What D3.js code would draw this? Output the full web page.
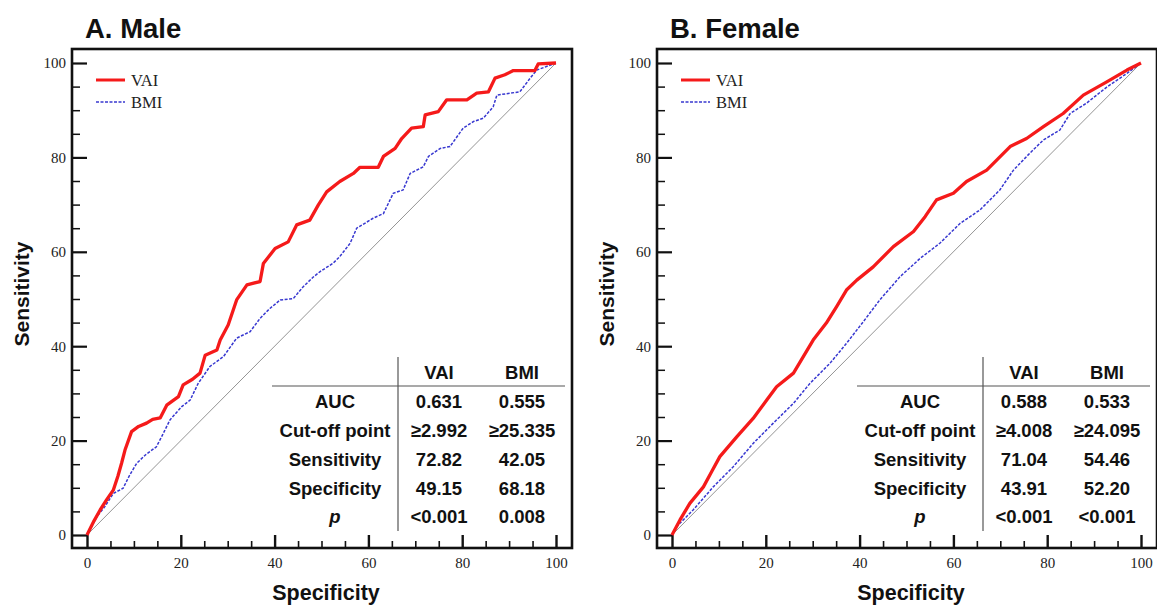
<!DOCTYPE html>
<html>
<head>
<meta charset="utf-8">
<script src="https://cdn.jsdelivr.net/npm/d3@7"></script>
<style>
  body { margin: 0; background: #fff; }
  .tick text { font-family: "Liberation Serif", "Times New Roman", serif; font-size: 15px; fill: #222; }
  .domain { display: none; }
  .tick line { stroke: #111; }
</style>
</head>
<body>
<div id="chart"></div>
<script>
// ROC curves: [100 - specificity, sensitivity]
let maleVAI = [[0,0],[1.5,3],[2.8,5.3],[4.2,7.5],[5.6,9.5],[6.6,12.5],[7.4,15.3],[8.1,18],[9.5,21.9],[11,23],[12.7,23.7],[14,24.5],[15.6,24.8],[17,27.5],[19.5,29.3],[20.5,31.8],[22.5,33],[24.1,34.3],[25.2,38.1],[27.7,39.2],[28.4,41.3],[30.1,44.5],[31.9,49.8],[34.1,53],[36.9,53.7],[37.6,57.5],[40.1,60.7],[42.9,62.1],[44.7,65.7],[47.5,66.7],[49.3,69.9],[51.1,72.7],[53.9,74.9],[56.8,76.6],[58.2,77.9],[62.1,77.9],[63.2,80.2],[65.7,81.9],[67.1,84],[69.2,86.2],[71.7,86.5],[72.1,89],[74.9,89.7],[76.7,92.2],[81,92.2],[83.1,93.6],[85.6,93.9],[87,96.8],[89.1,97.5],[90.9,98.4],[95.5,98.4],[96.2,99.8],[100,100]];
let maleBMI = [[0,0],[2.1,3.9],[3.8,6],[5.6,8.8],[7.7,9.9],[9,12.5],[10.6,15.2],[12.5,17],[14.8,18.7],[16,21],[17.7,24.4],[20.2,27.2],[22,28.6],[23.7,32.1],[26.2,35.7],[29.1,37.8],[31.9,41.7],[34.8,43.1],[36.9,45.9],[39,48],[41.2,49.8],[44,50.1],[46,52.5],[48.3,54.7],[49.7,55.8],[52.5,57.6],[53.9,59],[56.1,61.8],[57.5,65],[61,67.1],[63.2,68.1],[65.3,72.4],[67.4,73.1],[68.9,76.6],[71.7,78],[72.8,80.2],[75.3,81.9],[77.4,82.3],[80.2,86.2],[82.4,87.6],[84.5,88.3],[86.6,90.7],[87.4,93.2],[92.3,93.9],[94.5,96.8],[95.9,98.5],[100,100]];
let femaleVAI = [[0,0],[1.7,3.2],[3.8,6.7],[6.7,10.2],[8.5,13.5],[10.2,16.6],[13.8,20.8],[17.3,24.7],[20.2,28.6],[22.3,31.4],[25.9,34.3],[28,37.8],[30.1,41.3],[32.9,44.9],[35.1,48.4],[37.2,51.9],[39.4,54],[42.9,56.8],[47.2,61.1],[51.5,64.3],[54,67.5],[56.4,71],[60,72.4],[62.8,74.9],[67.1,77.3],[72.1,82.3],[75.6,84],[79.2,86.5],[83.4,89.3],[87.7,93.2],[92.7,96],[97,98.5],[100,100]];
let femaleBMI = [[0,0],[1,1.8],[4.5,5.3],[8.8,10.2],[13.1,14.5],[17.3,19.4],[21.6,23.7],[25.9,27.9],[29.4,32.1],[33.7,36.4],[37.2,40.6],[40.8,45.2],[44.3,49.8],[48.6,54.7],[52.9,58.6],[57.1,61.8],[61.4,66],[65.7,68.9],[69.9,73.1],[72.8,77.3],[76.3,80.9],[79.2,83.7],[82.7,85.8],[84.9,89.3],[88.4,91.5],[92.7,94.9],[97,97.8],[100,100]];

let axisTicks = [0, 20, 40, 60, 80, 100];
let minorTicks = d3.range(5, 100, 5).filter(function(d){ return d % 20 != 0; });

let tableCols = ["VAI", "BMI"];
let tableRows = ["AUC", "Cut-off point", "Sensitivity", "Specificity", "p"];
let maleTable = [["0.631", "0.555"], ["\u22652.992", "\u226525.335"], ["72.82", "42.05"], ["49.15", "68.18"], ["<0.001", "0.008"]];
let femaleTable = [["0.588", "0.533"], ["\u22654.008", "\u226524.095"], ["71.04", "54.46"], ["43.91", "52.20"], ["<0.001", "<0.001"]];

let panels = [
  {title: "A. Male", vai: maleVAI, bmi: maleBMI, table: maleTable, dx: 0},
  {title: "B. Female", vai: femaleVAI, bmi: femaleBMI, table: femaleTable, dx: 585}
];

let width = 1157, height = 606;
let svg = d3.select("#chart").append("svg")
  .attr("width", width)
  .attr("height", height)
  .style("background", "#fff");

let frame = {left: 72, right: 572, top: 49, bottom: 548};
let bold = "'Liberation Sans', Arial, sans-serif";
let serif = "'Liberation Serif', 'Times New Roman', serif";

panels.forEach(function(p){
  let g = svg.append("g").attr("transform", "translate(" + p.dx + ",0)");

  let x = d3.scaleLinear().domain([0, 100]).range([87, 556]);
  let y = d3.scaleLinear().domain([0, 100]).range([535, 63]);

  // title
  g.append("text")
    .attr("x", 85).attr("y", 38)
    .style("font-family", bold).style("font-weight", "bold").style("font-size", "27.5px")
    .style("fill", "#111")
    .text(p.title);

  // axes, ticks inside the frame
  g.append("g").attr("transform", "translate(" + frame.left + ",0)")
    .call(d3.axisLeft(y).tickValues(axisTicks).tickSize(-15).tickPadding(6))
    .selectAll(".tick line").style("stroke-width", 2.2);
  g.append("g").attr("transform", "translate(" + frame.left + ",0)")
    .call(d3.axisLeft(y).tickValues(minorTicks).tickSize(-8).tickFormat(""))
    .selectAll(".tick line").style("stroke-width", 1.5);
  g.append("g").attr("transform", "translate(0," + frame.bottom + ")")
    .call(d3.axisBottom(x).tickValues(axisTicks).tickSize(-13).tickPadding(9))
    .selectAll(".tick line").style("stroke-width", 2.4);
  g.append("g").attr("transform", "translate(0," + frame.bottom + ")")
    .call(d3.axisBottom(x).tickValues(minorTicks).tickSize(-7).tickFormat(""))
    .selectAll(".tick line").style("stroke-width", 1.6);

  g.selectAll(".tick text").style("font-family", serif).style("font-size", "15px");

  // frame
  g.append("rect")
    .attr("x", frame.left).attr("y", frame.top)
    .attr("width", frame.right - frame.left).attr("height", frame.bottom - frame.top)
    .style("fill", "none").style("stroke", "#111").style("stroke-width", 2.6);

  // axis titles
  g.append("text")
    .attr("transform", "translate(29," + 294 + ") rotate(-90)")
    .attr("text-anchor", "middle")
    .style("font-family", bold).style("font-weight", "bold").style("font-size", "21px")
    .style("fill", "#111")
    .text("Sensitivity");
  g.append("text")
    .attr("x", 326).attr("y", 600)
    .attr("text-anchor", "middle")
    .style("font-family", bold).style("font-weight", "bold").style("font-size", "21.5px")
    .style("fill", "#111")
    .text("Specificity");

  // reference diagonal
  let line = d3.line().x(function(d){ return x(d[0]); }).y(function(d){ return y(d[1]); });
  g.append("path")
    .datum([[0, 0], [100, 100]])
    .attr("d", line)
    .style("fill", "none").style("stroke", "#888").style("stroke-width", 0.9);

  g.append("path")
    .datum(p.bmi)
    .attr("d", line)
    .style("fill", "none").style("stroke", "#3838d0").style("stroke-width", 1.5)
    .style("stroke-dasharray", "3,1.5");

  g.append("path")
    .datum(p.vai)
    .attr("d", line)
    .style("fill", "none").style("stroke", "#f51a1a").style("stroke-width", 3.3)
    .style("stroke-linejoin", "round");

  // legend
  let legend = [{name: "VAI", color: "#f51a1a", w: 3, dash: null}, {name: "BMI", color: "#3838d0", w: 1.4, dash: "3,1.5"}];
  legend.forEach(function(l, i){
    let ly = 80 + i * 22;
    g.append("line")
      .attr("x1", 96).attr("x2", 125).attr("y1", ly).attr("y2", ly)
      .style("stroke", l.color).style("stroke-width", l.w)
      .style("stroke-dasharray", l.dash);
    g.append("text")
      .attr("x", 131).attr("y", ly + 5.5)
      .style("font-family", serif).style("font-size", "16.5px").style("fill", "#222")
      .text(l.name);
  });

  // stats table
  let colX = [439, 522];
  let rowY = [408, 437, 466, 494.5, 523];
  let tg = g.append("g")
    .style("font-family", bold).style("font-weight", "bold").style("font-size", "18.5px")
    .style("fill", "#111");
  tg.append("line").attr("x1", 398).attr("x2", 398).attr("y1", 357).attr("y2", 531)
    .style("stroke", "#555").style("stroke-width", 1.2);
  tg.append("line").attr("x1", 272).attr("x2", 565).attr("y1", 386).attr("y2", 386)
    .style("stroke", "#555").style("stroke-width", 1.2);
  tableCols.forEach(function(c, j){
    tg.append("text").attr("x", colX[j]).attr("y", 379)
      .attr("text-anchor", "middle").text(c);
  });
  tableRows.forEach(function(r, i){
    tg.append("text").attr("x", 335).attr("y", rowY[i])
      .attr("text-anchor", "middle")
      .style("font-style", r == "p" ? "italic" : null)
      .text(r);
    p.table[i].forEach(function(v, j){
      tg.append("text").attr("x", colX[j]).attr("y", rowY[i])
        .attr("text-anchor", "middle").text(v);
    });
  });
});
</script>
</body>
</html>
